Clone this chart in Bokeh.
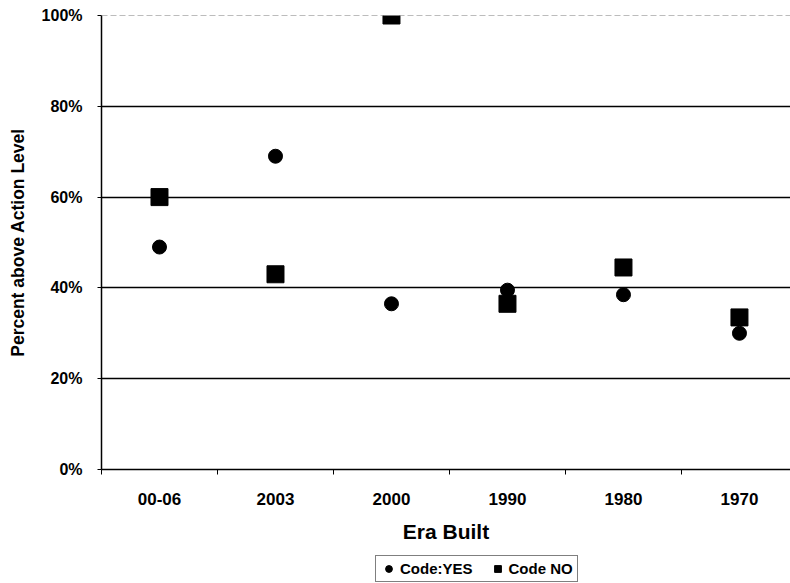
from bokeh.plotting import figure
from bokeh.layouts import column
from bokeh.models import (Range1d, FixedTicker, PrintfTickFormatter, Legend, LegendItem,
                          Span, ColumnDataSource)
from bokeh.embed import file_html
from bokeh.resources import INLINE

# ---- data ----
eras = ["00-06", "2003", "2000", "1990", "1980", "1970"]
code_yes = [49.0, 69.0, 36.5, 39.5, 38.5, 30.0]
code_no = [60.0, 43.0, 100.0, 36.5, 44.5, 33.5]
y_ticks = [0, 20, 40, 60, 80, 100]
series_labels = ["Code:YES", "Code NO"]

xpos = [i + 0.5 for i in range(len(eras))]
src = ColumnDataSource(dict(x=xpos, era=eras, yes=code_yes, no=code_no))

FONT = "Liberation Sans"
W = 790

p = figure(width=W, height=553,
           x_range=Range1d(0, 5.94), y_range=Range1d(0, 100),
           output_backend="svg", toolbar_location=None,
           min_border_left=101, min_border_right=0, min_border_top=15, min_border_bottom=84)
p.outline_line_color = None
p.background_fill_color = "white"

p.scatter("x", "yes", source=src, marker="circle", size=14,
          fill_color="black", line_color="black")
p.scatter("x", "no", source=src, marker="square", size=17,
          fill_color="black", line_color="black")

# grid
p.xgrid.grid_line_color = None
p.ygrid.ticker = FixedTicker(ticks=[20, 40, 60, 80])
p.ygrid.grid_line_color = "black"
p.ygrid.grid_line_width = 1.3
p.add_layout(Span(location=100, dimension="width", line_color="#7a7a7a",
                  line_dash="6 3", line_width=1))

# x axis
xa = p.xaxis[0]
xa.ticker = FixedTicker(ticks=xpos, minor_ticks=list(range(len(eras) + 1)))
xa.major_label_overrides = {x: e for x, e in zip(xpos, eras)}
xa.major_tick_line_color = None
xa.minor_tick_line_color = "black"
xa.minor_tick_out = 5
xa.minor_tick_in = 0
xa.axis_line_color = "black"
xa.axis_line_width = 1.5
xa.major_label_standoff = 17
xa.major_label_text_font = FONT
xa.major_label_text_font_style = "bold"
xa.major_label_text_font_size = "17px"
xa.major_label_text_color = "black"
xa.axis_label = "Era Built"
xa.axis_label_text_font = FONT
xa.axis_label_text_font_style = "bold"
xa.axis_label_text_font_size = "21px"
xa.axis_label_text_color = "black"
xa.axis_label_standoff = 12

# y axis
ya = p.yaxis[0]
ya.ticker = FixedTicker(ticks=y_ticks)
ya.formatter = PrintfTickFormatter(format="%d%%")
ya.minor_tick_line_color = None
ya.major_tick_out = 4
ya.major_tick_in = 0
ya.axis_line_color = "black"
ya.axis_line_width = 1.5
ya.major_label_standoff = 15
ya.major_label_text_font = FONT
ya.major_label_text_font_style = "bold"
ya.major_label_text_font_size = "16px"
ya.major_label_text_color = "black"
ya.axis_label = "Percent above Action Level"
ya.axis_label_text_font = FONT
ya.axis_label_text_font_style = "bold"
ya.axis_label_text_font_size = "17.5px"
ya.axis_label_text_color = "black"
ya.axis_label_standoff = 11

# legend strip below the chart (same series, drawn outside its visible range)
lg = figure(width=W, height=30, x_range=Range1d(0, 1), y_range=Range1d(-2, -1),
            x_axis_type=None, y_axis_type=None,
            output_backend="svg", toolbar_location=None, min_border=0)
lg.outline_line_color = None
lg.grid.visible = False
l_yes = lg.scatter("x", "yes", source=src, marker="circle", size=12,
                   fill_color="black", line_color="black")
l_no = lg.scatter("x", "no", source=src, marker="square", size=12,
                  fill_color="black", line_color="black")
legend = Legend(items=[LegendItem(label=series_labels[0], renderers=[l_yes]),
                       LegendItem(label=series_labels[1], renderers=[l_no])],
                orientation="horizontal", location=(274, 1))
legend.border_line_color = "black"
legend.border_line_width = 1.3
legend.label_text_font = FONT
legend.label_text_font_style = "bold"
legend.label_text_font_size = "15px"
legend.label_text_color = "black"
legend.label_height = 16
legend.glyph_width = 17
legend.glyph_height = 17
legend.label_standoff = 3
legend.spacing = 16
legend.padding = 4
legend.margin = 0
lg.add_layout(legend)

layout = column(p, lg, spacing=0)
open("out.html", "w").write(file_html(layout, INLINE))
